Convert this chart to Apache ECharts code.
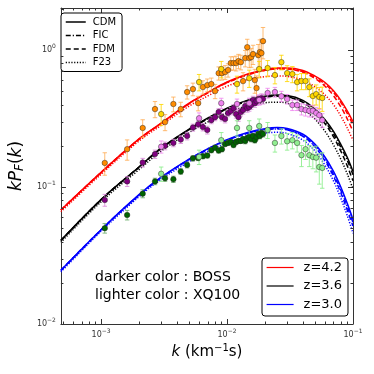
<!DOCTYPE html>
<html><head><meta charset="utf-8">
<script src="https://cdn.jsdelivr.net/npm/echarts@6/dist/echarts.min.js"></script>
<style>html,body{margin:0;padding:0;background:#fff}#c{width:374px;height:374px}</style>
</head><body><div id="c"></div>
<script>
// ---- model curves (k in s/km) ----
const kModel = [0.00048, 0.001, 0.002, 0.003, 0.005, 0.007, 0.01, 0.015, 0.02, 0.025, 0.03, 0.04, 0.05, 0.06, 0.07, 0.08, 0.09, 0.1];
const cdm42 = [0.068, 0.128, 0.225, 0.293, 0.41, 0.49, 0.585, 0.675, 0.72, 0.74, 0.74, 0.71, 0.645, 0.58, 0.505, 0.43, 0.36, 0.30];
const fic42 = [0.068, 0.127, 0.223, 0.29, 0.405, 0.485, 0.578, 0.665, 0.71, 0.728, 0.727, 0.695, 0.63, 0.565, 0.49, 0.415, 0.345, 0.285];
const fdm42 = [0.068, 0.128, 0.224, 0.292, 0.408, 0.487, 0.58, 0.668, 0.712, 0.73, 0.728, 0.69, 0.62, 0.545, 0.465, 0.385, 0.315, 0.255];
const f2342 = [0.066, 0.124, 0.217, 0.282, 0.39, 0.462, 0.545, 0.613, 0.64, 0.648, 0.643, 0.603, 0.54, 0.47, 0.4, 0.33, 0.27, 0.22];
const cdm36 = [0.0408, 0.081, 0.14, 0.193, 0.265, 0.319, 0.377, 0.435, 0.461, 0.47, 0.466, 0.43, 0.37, 0.31, 0.255, 0.205, 0.165, 0.13];
const fic36 = [0.0405, 0.0805, 0.139, 0.191, 0.262, 0.315, 0.372, 0.428, 0.453, 0.461, 0.456, 0.419, 0.359, 0.299, 0.245, 0.196, 0.157, 0.123];
const fdm36 = [0.0408, 0.081, 0.14, 0.192, 0.263, 0.316, 0.373, 0.43, 0.455, 0.462, 0.456, 0.416, 0.353, 0.29, 0.233, 0.183, 0.143, 0.111];
const f2336 = [0.0395, 0.078, 0.134, 0.183, 0.25, 0.298, 0.348, 0.395, 0.413, 0.417, 0.41, 0.37, 0.313, 0.255, 0.203, 0.16, 0.125, 0.097];
const cdm30 = [0.0247, 0.0488, 0.088, 0.118, 0.16, 0.19, 0.222, 0.252, 0.267, 0.272, 0.268, 0.243, 0.205, 0.165, 0.13, 0.1, 0.076, 0.058];
const fic30 = [0.0245, 0.0485, 0.087, 0.117, 0.158, 0.188, 0.219, 0.248, 0.262, 0.266, 0.262, 0.236, 0.198, 0.159, 0.124, 0.095, 0.072, 0.055];
const fdm30 = [0.0247, 0.0488, 0.0875, 0.1175, 0.159, 0.189, 0.22, 0.249, 0.263, 0.267, 0.262, 0.235, 0.196, 0.155, 0.12, 0.091, 0.068, 0.052];
const f2330 = [0.024, 0.0475, 0.085, 0.114, 0.153, 0.181, 0.21, 0.236, 0.248, 0.251, 0.246, 0.22, 0.183, 0.144, 0.111, 0.083, 0.062, 0.046];

// ---- BOSS (darker colours) ----
const kBoss = [0.00107,0.00161,0.00214,0.00268,0.00322,0.00375,0.00429,0.00482,0.00536,0.0059,0.00643,0.00697,0.0075,0.00804,0.00858,0.00911,0.00965,0.01019,0.01072,0.01126,0.01179,0.01233,0.01287,0.0134,0.01394,0.01447,0.01501,0.01555,0.01608,0.01662,0.01715,0.01769,0.01823,0.01876,0.0193];
const boss42 = [0.150,0.189,0.270,0.371,0.298,0.404,0.371,0.494,0.519,0.410,0.537,0.555,0.565,0.502,0.679,0.679,0.691,0.715,0.804,0.804,0.804,0.831,0.817,0.594,0.874,1.05,0.874,0.889,0.935,0.604,0.528,0.919,0.967,0.951,1.163];
const bossErr42 = [0.028,0.032,0.04,0.05,0.04,0.05,0.045,0.055,0.055,0.05,0.06,0.06,0.06,0.06,0.075,0.075,0.08,0.08,0.09,0.09,0.1,0.1,0.1,0.09,0.12,0.15,0.13,0.14,0.15,0.12,0.12,0.18,0.22,0.25,0.3];
const boss36 = [0.0804,0.110,0.151,0.174,0.20,0.21,0.222,0.236,0.272,0.288,0.274,0.261,0.308,0.324,0.353,0.324,0.314,0.347,0.359,0.377,0.341,0.324,0.353,0.365,0.391,0.377,0.384,0.397,0.432,0.410,0.424,0.439,0.432,0.446,0.439];
const bossErr36 = [0.008,0.009,0.011,0.012,0.013,0.013,0.014,0.015,0.016,0.017,0.017,0.017,0.018,0.019,0.02,0.02,0.02,0.021,0.022,0.022,0.022,0.022,0.023,0.024,0.025,0.025,0.026,0.027,0.028,0.028,0.03,0.031,0.032,0.033,0.035];
const boss30 = [0.0501,0.0625,0.0895,0.110,0.116,0.114,0.130,0.145,0.162,0.163,0.168,0.170,0.186,0.194,0.185,0.189,0.206,0.210,0.213,0.203,0.213,0.217,0.217,0.224,0.217,0.228,0.232,0.224,0.236,0.220,0.232,0.244,0.236,0.248,0.244];
const bossErr30 = [0.004,0.005,0.006,0.006,0.006,0.006,0.006,0.007,0.007,0.007,0.007,0.007,0.008,0.008,0.008,0.008,0.008,0.008,0.009,0.009,0.009,0.009,0.009,0.009,0.01,0.01,0.01,0.01,0.01,0.01,0.011,0.011,0.011,0.012,0.012];

// ---- XQ100 (lighter colours) ----
const kXq = [0.003,0.006,0.009,0.012,0.015,0.018,0.021,0.024,0.027,0.030,0.033,0.036,0.039,0.042,0.045,0.048,0.051,0.054,0.057];
const xq42 = [0.341,0.584,0.727,0.565,0.624,0.727,0.739,0.657,0.817,0.679,0.668,0.584,0.594,0.594,0.537,0.462,0.477,0.454,0.447];
const xqErr42 = [0.06,0.08,0.1,0.08,0.09,0.1,0.1,0.09,0.1,0.09,0.09,0.08,0.08,0.08,0.08,0.07,0.08,0.08,0.09];
const xq36 = [0.197,0.318,0.410,0.404,0.410,0.432,0.486,0.494,0.46,0.439,0.397,0.397,0.371,0.365,0.36,0.36,0.347,0.335,0.308];
const xqErr36 = [0.02,0.03,0.035,0.035,0.035,0.035,0.04,0.04,0.04,0.035,0.035,0.035,0.035,0.035,0.035,0.035,0.035,0.035,0.035];
const xq30 = [0.125,0.166,0.220,0.270,0.270,0.279,0.261,0.210,0.236,0.216,0.220,0.210,0.171,0.189,0.171,0.166,0.164,0.140,0.138];
const xqErr30 = [0.015,0.02,0.03,0.035,0.035,0.035,0.035,0.03,0.03,0.03,0.03,0.03,0.03,0.03,0.03,0.03,0.035,0.035,0.04];

// ---- axes ----
const xMin = 0.00048, xMax = 0.1, yMin = 0.01, yMax = 2.03;
const FONT = 'DejaVu Sans';

const chart = echarts.init(document.getElementById('c'), null, {renderer: 'canvas'});

function pair(ks, vs) { return ks.map((k, i) => [k, vs[i]]); }
function triple(ks, vs, es) { return ks.map((k, i) => [k, vs[i], es[i]]); }

const DASH = { CDM: 'solid', FIC: [5, 2, 1.2, 2], FDM: [5, 3], F23: [1.2, 1.6] };

function curve(name, ks, vs, color, style) {
  return { type: 'line', name: name, data: pair(ks, vs), smooth: 0.35, symbol: 'none', showSymbol: false,
    color: color, lineStyle: { color: color, width: 1.5, type: DASH[style] }, z: 2, silent: true };
}

function errSeries(ks, vs, es, color) {
  return { type: 'custom', data: triple(ks, vs, es), encode: { x: 0, y: 1 }, z: 3, silent: true,
    renderItem: function (params, api) {
      const k = api.value(0), v = api.value(1), e = api.value(2);
      const hi = api.coord([k, v + e]);
      const lo = api.coord([k, Math.max(v - e, 1e-4)]);
      const c = 2.2, st = { stroke: color, lineWidth: 1 };
      return { type: 'group', children: [
        { type: 'line', shape: { x1: hi[0], y1: hi[1], x2: lo[0], y2: lo[1] }, style: st },
        { type: 'line', shape: { x1: hi[0] - c, y1: hi[1], x2: hi[0] + c, y2: hi[1] }, style: st },
        { type: 'line', shape: { x1: lo[0] - c, y1: lo[1], x2: lo[0] + c, y2: lo[1] }, style: st }
      ]};
    } };
}

function pts(ks, vs, color) {
  return { type: 'scatter', data: pair(ks, vs), symbol: 'circle', symbolSize: 5.5, z: 4, silent: true,
    itemStyle: { color: color, borderColor: 'rgba(30,30,30,0.75)', borderWidth: 0.6, opacity: 1 } };
}

// minor tick positions (2..9 x 10^n) – axis decoration only
const minorX = [], minorY = [];
for (let e = -5; e <= 1; e++) for (let m = 2; m <= 9; m++) {
  const v = m * Math.pow(10, e);
  if (v > xMin && v < xMax) minorX.push([v, yMin]);
  if (v > yMin && v < yMax) minorY.push([xMin, v]);
}
const AX = '#333';
function minorTicks(data, isX) {
  return { type: 'custom', data: data, encode: { x: 0, y: 1 }, z: 5, silent: true, clip: false,
    renderItem: function (params, api) {
      const st = { stroke: AX, lineWidth: 1 };
      const L = 2.5;
      if (isX) {
        const k = api.value(0);
        const b = api.coord([k, yMin]), t = api.coord([k, yMax]);
        const x = Math.round(b[0]) + 0.5;
        return { type: 'group', children: [
          { type: 'line', shape: { x1: x, y1: b[1], x2: x, y2: b[1] - L }, style: st },
          { type: 'line', shape: { x1: x, y1: t[1], x2: x, y2: t[1] + L }, style: st }] };
      } else {
        const v = api.value(1);
        const l = api.coord([xMin, v]), r = api.coord([xMax, v]);
        const y = Math.round(l[1]) + 0.5;
        return { type: 'group', children: [
          { type: 'line', shape: { x1: l[0], y1: y, x2: l[0] + L, y2: y }, style: st },
          { type: 'line', shape: { x1: r[0], y1: y, x2: r[0] - L, y2: y }, style: st }] };
      }
    } };
}

function pow10Label(v) {
  const e = Math.log10(v), r = Math.round(e);
  if (Math.abs(e - r) > 1e-6) return '';
  return '{b|10}{s|' + (r < 0 ? '\u2212' : '') + Math.abs(r) + '}';
}
const tickRich = { b: { fontSize: 8, fontFamily: FONT, color: '#333' }, s: { fontSize: 6, fontFamily: FONT, color: '#333', padding: [0, 0, 7, 0] } };

const baseAxis = {
  type: 'log', logBase: 10,
  axisLine: { show: true, lineStyle: { color: AX, width: 1 } },
  axisTick: { show: true, inside: true, length: 5, lineStyle: { color: AX, width: 1 } },
  minorTick: { show: false }, splitLine: { show: false }
};

const hiddenSymbol = { color: 'rgba(0,0,0,0)', borderColor: 'rgba(0,0,0,0)', borderWidth: 0, opacity: 0 };

const option = {
  animation: false,
  backgroundColor: '#fff',
  grid: { left: 55, right: 21, top: 8, bottom: 50, containLabel: false },
  xAxis: [
    Object.assign({}, baseAxis, { min: xMin, max: xMax, position: 'bottom',
      axisLabel: { show: true, margin: 4, formatter: pow10Label, rich: tickRich, showMinLabel: false, showMaxLabel: true },
      name: '{i|k}{n| (km}{s|\u22121}{n|s)}', nameLocation: 'middle', nameGap: 18,
      nameTextStyle: { rich: {
        i: { fontSize: 15, fontStyle: 'italic', fontFamily: FONT, color: '#000' },
        n: { fontSize: 15, fontFamily: FONT, color: '#000' },
        s: { fontSize: 10, fontFamily: FONT, color: '#000', padding: [0, 0, 8, 0] } } } }),
    Object.assign({}, baseAxis, { min: xMin, max: xMax, position: 'top', axisLabel: { show: false } })
  ],
  yAxis: [
    Object.assign({}, baseAxis, { min: yMin, max: yMax, position: 'left',
      axisLabel: { show: true, margin: 5, formatter: pow10Label, rich: tickRich, showMinLabel: true, showMaxLabel: false },
      name: '{i|kP}{sub|F}{n|(}{i|k}{n|)}', nameLocation: 'middle', nameRotate: 90, nameGap: 26,
      nameTextStyle: { rich: {
        i: { fontSize: 17, fontStyle: 'italic', fontFamily: FONT, color: '#000' },
        n: { fontSize: 17, fontFamily: FONT, color: '#000' },
        sub: { fontSize: 12, fontStyle: 'italic', fontFamily: FONT, color: '#000', padding: [7, 0, 0, 0] } } } }),
    Object.assign({}, baseAxis, { min: yMin, max: yMax, position: 'right', axisLabel: { show: false } })
  ],
  legend: [
    { data: ['CDM', 'FIC', 'FDM', 'F23'], orient: 'vertical', left: 61, top: 13,
      itemWidth: 20, itemHeight: 11, itemGap: 3.5, padding: [4, 6, 4, 4],
      borderColor: '#000', borderWidth: 1, borderRadius: 3, backgroundColor: '#fff', selectedMode: false,
      itemStyle: hiddenSymbol, lineStyle: { width: 1.5 },
      textStyle: { fontSize: 10, fontFamily: FONT, color: '#000', padding: [0, 0, 0, 2] } },
    { data: ['z=4.2', 'z=3.6', 'z=3.0'], orient: 'vertical', left: 262, top: 258,
      itemWidth: 27, itemHeight: 14, itemGap: 5.5, padding: [3, 6, 5, 4],
      borderColor: '#000', borderWidth: 1, borderRadius: 3, backgroundColor: '#fff', selectedMode: false,
      itemStyle: hiddenSymbol, lineStyle: { width: 1.2 },
      textStyle: { fontSize: 13, fontFamily: FONT, color: '#000', padding: [0, 0, 0, 5] } }
  ],
  graphic: [
    { type: 'text', left: 95, top: 270, style: { text: 'darker color : BOSS', font: '14px "DejaVu Sans"', fill: '#000' }, z: 10 },
    { type: 'text', left: 95, top: 288, style: { text: 'lighter color : XQ100', font: '14px "DejaVu Sans"', fill: '#000' }, z: 10 }
  ],
  series: [
    // legend-only style series
    { type: 'line', name: 'CDM', data: [], symbol: 'none', color: '#000', lineStyle: { color: '#000', width: 1.5, type: DASH.CDM } },
    { type: 'line', name: 'FIC', data: [], symbol: 'none', color: '#000', lineStyle: { color: '#000', width: 1.5, type: DASH.FIC } },
    { type: 'line', name: 'FDM', data: [], symbol: 'none', color: '#000', lineStyle: { color: '#000', width: 1.5, type: DASH.FDM } },
    { type: 'line', name: 'F23', data: [], symbol: 'none', color: '#000', lineStyle: { color: '#000', width: 1.5, type: DASH.F23 } },
    // model curves
    curve('z=4.2', kModel, cdm42, '#ff0000', 'CDM'),
    curve('fic42', kModel, fic42, '#ff0000', 'FIC'),
    curve('fdm42', kModel, fdm42, '#ff0000', 'FDM'),
    curve('f2342', kModel, f2342, '#ff0000', 'F23'),
    curve('z=3.6', kModel, cdm36, '#000000', 'CDM'),
    curve('fic36', kModel, fic36, '#000000', 'FIC'),
    curve('fdm36', kModel, fdm36, '#000000', 'FDM'),
    curve('f2336', kModel, f2336, '#000000', 'F23'),
    curve('z=3.0', kModel, cdm30, '#0000ff', 'CDM'),
    curve('fic30', kModel, fic30, '#0000ff', 'FIC'),
    curve('fdm30', kModel, fdm30, '#0000ff', 'FDM'),
    curve('f2330', kModel, f2330, '#0000ff', 'F23'),
    // error bars
    errSeries(kBoss, boss42, bossErr42, 'rgba(255,165,70,0.75)'),
    errSeries(kXq, xq42, xqErr42, 'rgba(255,215,0,0.85)'),
    errSeries(kBoss, boss36, bossErr36, 'rgba(218,130,218,0.8)'),
    errSeries(kXq, xq36, xqErr36, 'rgba(238,130,238,0.8)'),
    errSeries(kBoss, boss30, bossErr30, 'rgba(100,170,100,0.8)'),
    errSeries(kXq, xq30, xqErr30, 'rgba(144,238,144,0.9)'),
    // points
    pts(kBoss, boss42, '#ff8c00'),
    pts(kXq, xq42, '#ffd700'),
    pts(kBoss, boss36, '#800080'),
    pts(kXq, xq36, '#ee82ee'),
    pts(kBoss, boss30, '#006400'),
    pts(kXq, xq30, '#90ee90'),
    // minor ticks
    minorTicks(minorX, true),
    minorTicks(minorY, false)
  ]
};
chart.setOption(option);
</script>
</body></html>
